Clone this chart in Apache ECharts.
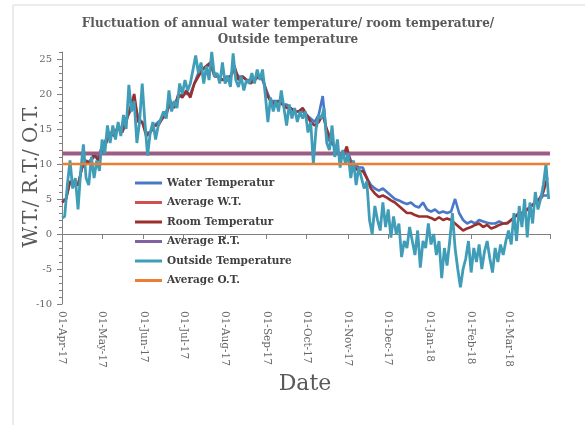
<!DOCTYPE html>
<html><head><meta charset="utf-8">
<script src="https://cdn.jsdelivr.net/npm/echarts@6/dist/echarts.min.js"></script>
<style>html,body{margin:0;padding:0;background:#fff}#c{width:585px;height:425px}</style>
</head><body><div id="c"></div>
<script>
// Month-start tick positions (days since 01-Apr-17) and tick labels
const monthDays = [0, 30, 61, 91, 122, 153, 183, 214, 244, 275, 306, 334];
const monthLabels = ['01-Apr-17','01-May-17','01-Jun-17','01-Jul-17','01-Aug-17','01-Sep-17','01-Oct-17','01-Nov-17','01-Dec-17','01-Jan-18','01-Feb-18','01-Mar-18'];
const endDay = 365;

// Water temperature, one reading every 3 days from 01-Apr-17
const waterStep = 3;
const waterTemp = [
  4.8, 5, 7.5, 7.5, 7, 9.5, 10, 10.5, 11, 11,
  12.5, 13.5, 14, 14.5, 15, 15, 16.5, 17.5, 19, 16.5,
  16, 14.5, 14.5, 15.5, 16, 16.5, 17.5, 18.5, 18.5, 19.5,
  20, 20, 20, 21.5, 23, 23.5, 24, 24, 23, 22.5,
  22, 22.5, 22.5, 23.5, 22.5, 22.5, 22, 22, 22, 22.5,
  22, 20.5, 19, 19, 19, 18.5, 18.5, 18, 17.5, 17.5,
  17.5, 17, 16.5, 16, 17, 19.7, 14, 13, 12.5, 11.5,
  11.5, 12, 10.5, 10, 9.5, 9.5, 8, 7, 6.5, 6.2,
  6.5, 6, 5.5, 5, 4.8, 4.5, 4.3, 4.5, 4, 3.8,
  4.5, 3.5, 3.2, 3.5, 3, 3.2, 3, 3.2, 5, 3,
  2, 1.5, 1.8, 1.5, 2, 1.8, 1.6, 1.5, 1.5, 1.8,
  1.5, 1.6, 2, 2.5, 3, 3, 3.5, 4, 4.5, 4.8,
  5.5, 5.5
];

// Room temperature, one reading every 3 days
const roomStep = 3;
const roomTemp = [
  4.5, 5, 7.5, 7, 7, 9.5, 10.5, 10, 11.5, 10.5,
  12, 13, 14.5, 14, 15.5, 14.5, 16, 18, 20, 16,
  16, 14, 14.5, 15.5, 15.5, 16.5, 17, 19, 18, 20,
  19.5, 20.5, 19.5, 21.5, 22.5, 23.5, 24, 24.5, 22.5, 22.5,
  22, 22, 22.5, 24, 22, 22.5, 22, 21.5, 22, 22.5,
  22.5, 20, 19, 18.5, 19, 18.5, 18, 18, 17.5, 17.5,
  18, 17, 16, 15.5, 16, 17, 15, 13.5, 12.5, 11.5,
  11, 12.5, 10, 9.5, 9, 9, 8, 6.5, 5.8, 5.3,
  5.5, 5.2, 4.8, 4.5, 4, 3.5, 3, 3, 2.7, 2.5,
  2.5, 2.5, 2.3, 2, 2.4, 2, 2.2, 2, 1.5, 1,
  0.5, 0.8, 1, 1.3, 1.5, 1, 1.3, 0.8, 1, 1.3,
  1.5, 1.5, 2, 2.5, 3, 3, 3.5, 4, 4.5, 5,
  6, 8
];

// Outside temperature, one reading every 2 days
const outsideStep = 2;
const outsideTemp = [
  2.3, 2.5, 7, 10.5, 6.5, 8, 3.5, 9, 12.8, 8,
  7, 11, 8, 10.5, 9, 13.5, 11.5, 15.5, 13, 15.5,
  13.5, 16, 14, 17, 15, 21.3, 17.5, 19, 13, 16,
  21.5, 16, 11.2, 14.5, 16, 13.5, 15.5, 16.5, 17.5, 16.5,
  20.5, 17.5, 19, 18, 21.5, 20, 22, 20.5, 21.5, 23.5,
  25.5, 23, 24.5, 21.5, 24, 22, 26, 22.5, 23, 21.5,
  24.5, 21.5, 22.5, 21, 25.8, 22, 21, 22.5, 20.5, 22,
  21.5, 23, 21.5, 23.5, 22, 23.5, 20, 16, 19.5, 17.5,
  19, 17.5, 20.5, 18, 15.5, 18.5, 16.5, 18, 16, 17.5,
  16.5, 17.5, 14.5, 16, 10, 15, 17, 16.5, 18, 13,
  12, 15.5, 11, 13.5, 9.5, 12, 10, 11.5, 8, 10.5,
  7, 9.5, 8, 6.5, 7.5, 2, 0, 4, 2, 0.5,
  4.5, 1, 3.5, -0.5, 2.5, 0, 1.5, -3.3, -1, -2,
  1, -1, -3, 0.5, -4.8, -1, -2, 1.5, -1.5, 0,
  -3, -1, -6.3, -2, -4.5, -1, 3, -2, -5, -7.6,
  -5, -3.5, -1, -5.5, -2, -4, -1.5, -5, -2.5, -1,
  -3.5, -5.5, -2, -4, -1.5, -3, -1, 0.5, -1.5, 3,
  -1, 4, 1, 5, -0.5, 4.5, 1.5, 6, 3.5, 5,
  7, 10, 5
];

// Annual averages
const avgWater = 11.5;
const avgRoom = 11.45;
const avgOutside = 10.0;

const seriesNames = ['Water Temperatur','Average W.T.','Room Temperatur','Average R.T.','Outside Temperature','Average O.T.'];

function pairs(vals, step) { return vals.map((v, i) => [i * step, v]); }
function flat(v) { return [[0, v], [endDay, v]]; }

const font = 'DejaVu Serif';
const chart = echarts.init(document.getElementById('c'), null, {renderer: 'canvas'});

function line(name, data, color, width, z) {
  return {
    name, type: 'line', data, symbol: 'none', showSymbol: false, z,
    lineStyle: {color, width}, itemStyle: {color}, emphasis: {disabled: true}
  };
}

chart.setOption({
  animation: false,
  backgroundColor: '#fff',
  grid: {left: 62, right: 35, top: 52, bottom: 121, containLabel: false},
  graphic: [
    {type: 'rect', shape: {x: 13, y: 5, width: 600, height: 450}, style: {fill: 'none', stroke: '#d9d9d9', lineWidth: 1}, silent: true, z: -10},
    {type: 'text', x: 288, y: 32, style: {text: 'Fluctuation of annual water temperature/ room temperature/\nOutside temperature', textAlign: 'center', textVerticalAlign: 'middle', font: 'bold 12px "DejaVu Serif"', lineHeight: 16, fill: '#595959'}},
    {type: 'text', x: 32, y: 176, rotation: Math.PI / 2, style: {text: 'W.T./ R.T./ O.T.', textAlign: 'center', textVerticalAlign: 'middle', font: '20px "DejaVu Serif"', fill: '#595959'}},
    {type: 'text', x: 305, y: 384, style: {text: 'Date', textAlign: 'center', textVerticalAlign: 'middle', font: '22px "DejaVu Serif"', fill: '#595959'}}
  ],
  legend: {
    orient: 'vertical', left: 135, top: 176.5, padding: 0, itemGap: 6.5, itemWidth: 27, itemHeight: 3,
    icon: 'rect', data: seriesNames,
    textStyle: {fontFamily: font, fontSize: 10.5, fontWeight: 'bold', color: '#404040', lineHeight: 13}
  },
  xAxis: {
    type: 'value', min: 0, max: endDay,
    axisLine: {show: true, lineStyle: {color: '#808080', width: 1}},
    axisTick: {show: true, length: 5, customValues: monthDays.concat([endDay]), lineStyle: {color: '#808080'}},
    axisLabel: {
      customValues: monthDays, rotate: -90, margin: 7, fontFamily: font, fontSize: 10.5, color: '#666',
      formatter: v => { const i = monthDays.indexOf(v); return i >= 0 ? monthLabels[i] : ''; }
    },
    splitLine: {show: false}
  },
  yAxis: [
    {
      type: 'value', min: -10, max: 26, interval: 5, position: 'left',
      axisLine: {show: true, lineStyle: {color: '#808080', width: 1}},
      axisTick: {show: true, length: 5, lineStyle: {color: '#808080'}},
      axisLabel: {showMaxLabel: false, margin: 10, fontFamily: font, fontSize: 10, color: '#666'},
      splitLine: {show: false}
    },
    {
      type: 'value', min: -10, max: 26, interval: 1, position: 'left', offset: 0,
      axisLine: {show: false},
      axisTick: {show: true, length: 3, lineStyle: {color: '#808080'}},
      axisLabel: {show: false},
      splitLine: {show: false}
    }
  ],
  series: [
    line(seriesNames[0], pairs(waterTemp, waterStep), '#4a78c8', 2.6, 2),
    line(seriesNames[1], flat(avgWater), '#d0504d', 4, 3),
    line(seriesNames[2], pairs(roomTemp, roomStep), '#9a2f2c', 2.6, 4),
    line(seriesNames[3], flat(avgRoom), '#8064a2', 2.5, 5),
    line(seriesNames[4], pairs(outsideTemp, outsideStep), '#3f9db8', 2.8, 6),
    line(seriesNames[5], flat(avgOutside), '#ed7d31', 2.5, 7)
  ]
});
</script></body></html>
